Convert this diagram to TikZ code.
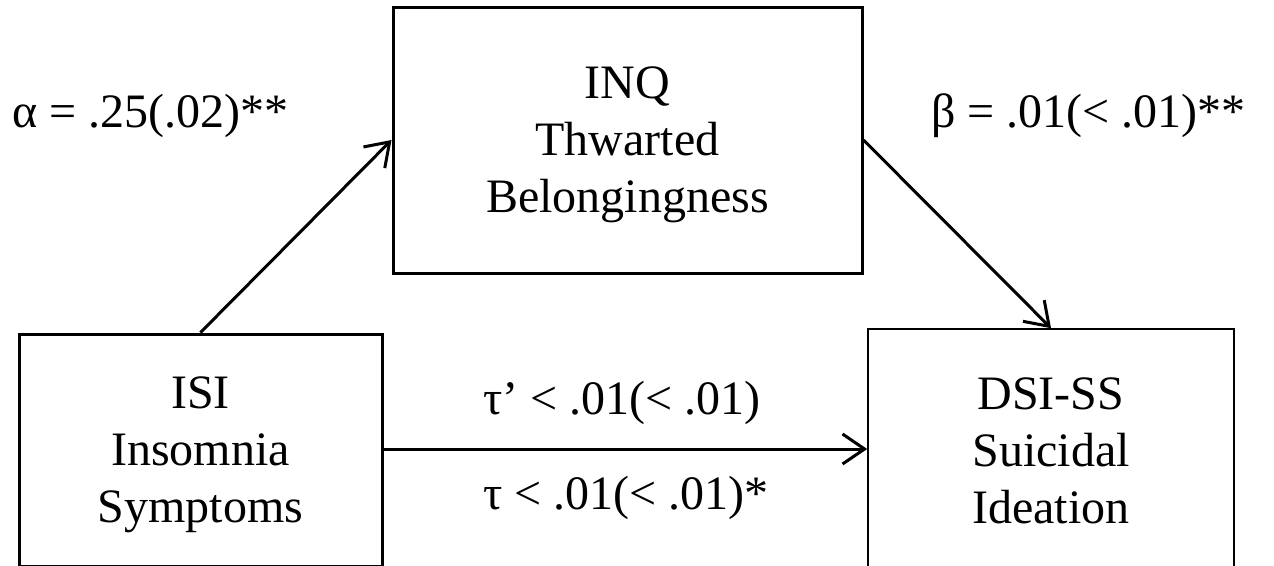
\documentclass[tikz,border=0pt]{standalone}
\usepackage{fontspec}
\setmainfont{Liberation Serif}
\usetikzlibrary{arrows.meta,calc}
\begin{document}
\begin{tikzpicture}[x=1pt,y=-1pt,
  boxtxt/.style={align=center,inner sep=0pt,font=\fontsize{48}{57}\selectfont},
  varbox/.style={draw,line width=3pt,inner sep=0pt},
  thinbox/.style={draw,line width=1.6pt,inner sep=0pt},
  lbl/.style={inner sep=0pt,font=\fontsize{48}{57}\selectfont},
  arr/.style={line width=3pt,-{Straight Barb[length=22pt,width=30pt]}}]
\useasboundingbox (0,0) rectangle (1274,565);
\clip (0,0) rectangle (1274,565);
\fill[white] (0,0) rectangle (1274,565);
\node[varbox,minimum width=469pt,minimum height=266pt] (T) at (627.5,140) {};
\node[boxtxt] (Tt) at ($(T.center)+(0,5)$) {INQ\\Thwarted\\Belongingness};
\node[varbox,minimum width=363pt,minimum height=232pt] (L) at (200.5,450) {};
\node[boxtxt] (Lt) at ($(L.center)+(0,5)$) {ISI\\Insomnia\\Symptoms};
\node[thinbox,minimum width=366pt,minimum height=238pt] (R) at (1051,448) {};
\node[boxtxt] (Rt) at ($(R.center)+(0,3)$) {DSI-SS\\Suicidal\\Ideation};
\coordinate (Ls) at ($(L.east)+(0,-1)$);
\draw[arr] (L.north) -- (T.west);
\draw[arr] (T.east) -- (R.north);
\draw[arr] (Ls) -- (Ls -| R.west);
\node[lbl,anchor=base west] (a) at (12,127) {α = .25(.02)**};
\node[lbl,anchor=base east] (b) at (1246,127) {β = .01(< .01)**};
\node[lbl,anchor=base west] (tp) at (483,414) {τ’ < .01(< .01)};
\node[lbl,anchor=base west] (t) at (483,509) {τ < .01(< .01)*};
\end{tikzpicture}
\end{document}
